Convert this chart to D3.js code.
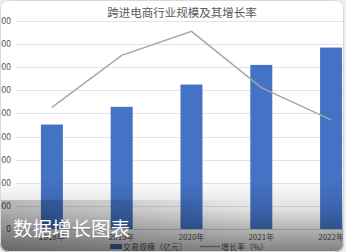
<!DOCTYPE html>
<meta charset="utf-8">
<style>
body { margin: 0; background: #eeeeee; }
text { font-family: "Noto Sans CJK SC", "DejaVu Sans", sans-serif; }
</style>
<svg width="346" height="252"></svg>
<script src="https://cdn.jsdelivr.net/npm/d3@7"></script>
<script>

var years = ["2018年", "2019年", "2020年", "2021年", "2022年"];
var scaleVals = [90400, 105700, 125000, 142000, 157000];   // 交易规模（亿元）
var growth = [11.7, 16.7, 19.0, 13.6, 10.5];               // 增长率（%）
var yTicks = [0, 20000, 40000, 60000, 80000, 100000, 120000, 140000, 160000, 180000];

var svg = d3.select("svg"),
    width = +svg.attr("width"),
    height = +svg.attr("height");

var defs = svg.append("defs");
var clip = defs.append("clipPath").attr("id", "card");
clip.append("rect").attr("x", 0).attr("y", 0).attr("width", 344).attr("height", 252).attr("rx", 8);

var grad = defs.append("linearGradient").attr("id", "shade")
    .attr("x1", 0).attr("y1", 0).attr("x2", 0).attr("y2", 1);
grad.append("stop").attr("offset", "0%").attr("stop-color", "#000").attr("stop-opacity", 0);
grad.append("stop").attr("offset", "40%").attr("stop-color", "#000").attr("stop-opacity", 0.12);
grad.append("stop").attr("offset", "100%").attr("stop-color", "#000").attr("stop-opacity", 0.5);

var grad2 = defs.append("linearGradient").attr("id", "shadeL")
    .attr("x1", 0).attr("y1", 0).attr("x2", 1).attr("y2", 0);
grad2.append("stop").attr("offset", "0%").attr("stop-color", "#000").attr("stop-opacity", 0.22);
grad2.append("stop").attr("offset", "70%").attr("stop-color", "#000").attr("stop-opacity", 0);

var g = svg.append("g").attr("clip-path", "url(#card)");

g.append("rect")
    .attr("width", 344).attr("height", 252)
    .attr("fill", "#fff");

var x = d3.scaleBand().domain(years).range([17, 366]);
var barW = x.bandwidth() * 0.315;
var y = d3.scaleLinear().domain([0, 180000]).range([229, 21]);
var y2 = d3.scaleLinear().domain([0, 20]).range([229, 21]);

// grid
g.append("g").selectAll("line")
    .data(yTicks.slice(1))
    .enter().append("line")
    .attr("x1", 16).attr("x2", 346)
    .attr("y1", function(d) { return Math.round(y(d)) + 0.5; })
    .attr("y2", function(d) { return Math.round(y(d)) + 0.5; })
    .attr("stroke", "#e4e4e4")
    .attr("stroke-width", 1);

g.append("line")
    .attr("x1", 16).attr("x2", 346)
    .attr("y1", y(0) + 0.5).attr("y2", y(0) + 0.5)
    .attr("stroke", "#d0d0d0");

// y labels (mostly cut off by the left edge)
g.append("g").selectAll("text")
    .data(yTicks)
    .enter().append("text")
    .attr("x", 11)
    .attr("y", function(d) { return y(d) + 3; })
    .attr("text-anchor", "end")
    .attr("font-size", 8.5)
    .attr("fill", "#595959")
    .text(function(d) { return d; });

// bars
g.append("g").selectAll("rect")
    .data(scaleVals)
    .enter().append("rect")
    .attr("x", function(d, i) { return x(years[i]) + x.bandwidth() / 2 - barW / 2; })
    .attr("y", function(d) { return y(d); })
    .attr("width", barW)
    .attr("height", function(d) { return y(0) - y(d); })
    .attr("fill", "#4472c4");

// growth line
var line = d3.line()
    .x(function(d, i) { return x(years[i]) + x.bandwidth() / 2; })
    .y(function(d) { return y2(d); });

g.append("path")
    .datum(growth)
    .attr("d", line)
    .attr("fill", "none")
    .attr("stroke", "#a5a5a5")
    .attr("stroke-width", 1.4);

// title
g.append("text")
    .attr("x", 182).attr("y", 17)
    .attr("text-anchor", "middle")
    .attr("font-size", 11.5)
    .attr("fill", "#595959")
    .text("跨进电商行业规模及其增长率");

// x labels
g.append("g").selectAll("text")
    .data(years)
    .enter().append("text")
    .attr("x", function(d) { return x(d) + x.bandwidth() / 2; })
    .attr("y", 240)
    .attr("text-anchor", "middle")
    .attr("font-size", 8)
    .attr("fill", "#595959")
    .text(function(d) { return d; });

// legend
var lg = g.append("g").attr("transform", "translate(110,247)");
lg.append("rect").attr("x", 0).attr("y", -3).attr("width", 12).attr("height", 5).attr("fill", "#4472c4");
lg.append("text").attr("x", 13).attr("y", 3).attr("font-size", 8).attr("fill", "#595959").text("交易规模（亿元）");
lg.append("line").attr("x1", 90).attr("x2", 110).attr("y1", -0.5).attr("y2", -0.5)
    .attr("stroke", "#a5a5a5").attr("stroke-width", 1.4);
lg.append("text").attr("x", 111).attr("y", 3).attr("font-size", 8).attr("fill", "#595959").text("增长率（%）");

// dark shade overlay + caption
g.append("rect")
    .attr("x", 0).attr("y", 180).attr("width", 344).attr("height", 72)
    .attr("fill", "url(#shade)");
g.append("rect")
    .attr("x", 0).attr("y", 200).attr("width", 344).attr("height", 52)
    .attr("fill", "url(#shadeL)");

g.append("text")
    .attr("x", 13).attr("y", 236)
    .attr("font-size", 19.5)
    .attr("fill", "#fff")
    .text("数据增长图表");

svg.append("rect")
    .attr("x", 0.5).attr("y", 0.5).attr("width", 343).attr("height", 251).attr("rx", 8)
    .attr("fill", "none").attr("stroke", "#d8d8d8");

</script>
